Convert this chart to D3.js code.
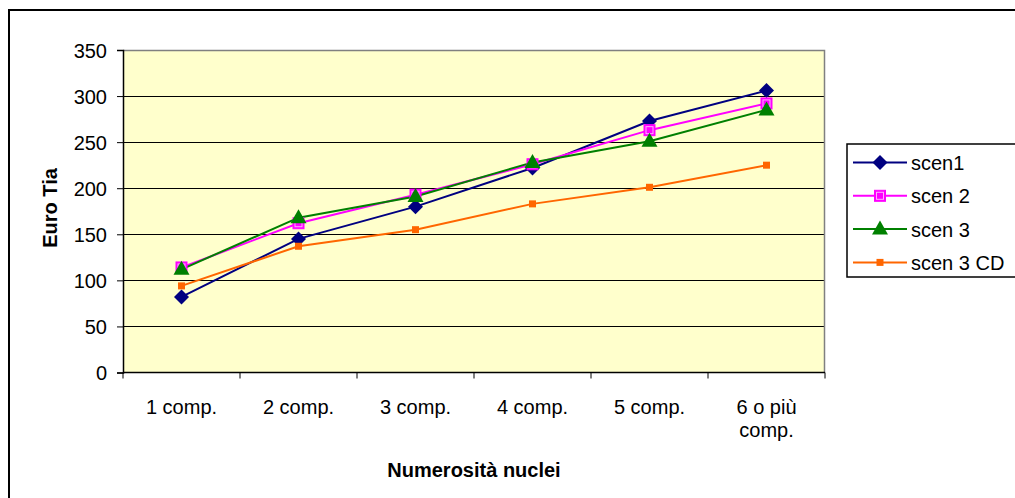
<!DOCTYPE html>
<html>
<head>
<meta charset="utf-8">
<script src="https://cdn.jsdelivr.net/npm/d3@7"></script>
<style>
  html, body { margin: 0; padding: 0; background: #fff; }
  svg { display: block; font-family: Arial, "Liberation Sans", sans-serif; }
</style>
</head>
<body>
<svg id="chart" width="1015" height="498"></svg>
<script>
// Categories and series values
const categories = ["1 comp.", "2 comp.", "3 comp.", "4 comp.", "5 comp.", "6 o più comp."];
const scen1   = [82, 145, 180, 222, 273, 306];
const scen2   = [114, 162, 193, 226, 263, 292];
const scen3   = [112, 168, 191, 228, 251, 285];
const scen3CD = [94, 137, 155, 183, 201, 225];
const yTicks  = [0, 50, 100, 150, 200, 250, 300, 350];

const seriesNames  = ["scen1", "scen 2", "scen 3", "scen 3 CD"];
const seriesValues = [scen1, scen2, scen3, scen3CD];
const seriesColors = ["#000080", "#FF00FF", "#008000", "#FF6600"];
const seriesShapes = ["diamond", "square", "triangle", "smallsquare"];

const FONT = "Arial, 'Liberation Sans', sans-serif";
const svg = d3.select("#chart");
const plot = { left: 123, top: 50, right: 825, bottom: 372.5 };

// Outer chart frame
svg.append("rect")
  .attr("x", 9).attr("y", 10).attr("width", 1020).attr("height", 500)
  .attr("fill", "#fff").attr("stroke", "#000").attr("stroke-width", 2);

const x = d3.scaleBand().domain(categories).range([plot.left, plot.right]).padding(0);
const y = d3.scaleLinear().domain([0, 350]).range([plot.bottom, plot.top]);

// Plot background
svg.append("rect")
  .attr("x", plot.left).attr("y", plot.top)
  .attr("width", plot.right - plot.left).attr("height", plot.bottom - plot.top)
  .attr("fill", "#FFFFCC");

// Horizontal gridlines
svg.append("g").selectAll("line")
  .data(yTicks.filter(v => v > 0 && v < 350))
  .join("line")
  .attr("x1", plot.left).attr("x2", plot.right)
  .attr("y1", d => Math.round(y(d)) + 0.5).attr("y2", d => Math.round(y(d)) + 0.5)
  .attr("stroke", "#000").attr("stroke-width", 1);

// Plot border on top and right
svg.append("path")
  .attr("d", `M${plot.left},${plot.top + 0.5}H${plot.right - 0.5}V${plot.bottom}`)
  .attr("fill", "none").attr("stroke", "#808080").attr("stroke-width", 1.5);

// Y axis
const yAxis = svg.append("g")
  .attr("transform", `translate(${plot.left},0)`)
  .call(d3.axisLeft(y).tickValues(yTicks).tickSize(6).tickPadding(10));
yAxis.select(".domain").attr("stroke", "#000").attr("stroke-width", 1.5);
yAxis.selectAll(".tick line").attr("stroke", "#000");
yAxis.selectAll("text").attr("font-size", 20).attr("fill", "#000")
  .attr("font-family", FONT).attr("dy", "0.36em");

// X axis: ticks at category boundaries
const xAxisG = svg.append("g").attr("transform", `translate(0,${plot.bottom})`);
xAxisG.append("line")
  .attr("x1", plot.left).attr("x2", plot.right)
  .attr("stroke", "#000").attr("stroke-width", 1.5);
const boundaries = categories.map(c => x(c)).concat([x(categories[categories.length - 1]) + x.bandwidth()]);
xAxisG.selectAll("line.tk").data(boundaries).join("line").attr("class", "tk")
  .attr("x1", d => d).attr("x2", d => d).attr("y1", 0).attr("y2", 6)
  .attr("stroke", "#000").attr("stroke-width", 1);

// Category labels, wrapped where they are long
const labelLines = c => c === "6 o più comp." ? ["6 o più", "comp."] : [c];
xAxisG.selectAll("text.cat").data(categories).join("text").attr("class", "cat")
  .attr("x", d => x(d) + x.bandwidth() / 2)
  .attr("y", 41)
  .attr("text-anchor", "middle")
  .attr("font-size", 20).attr("fill", "#000")
  .each(function(d) {
    const t = d3.select(this);
    labelLines(d).forEach((ln, i) => {
      t.append("tspan").attr("x", x(d) + x.bandwidth() / 2).attr("dy", i === 0 ? 0 : 23.5).text(ln);
    });
  });

// Axis titles
svg.append("text")
  .attr("x", (plot.left + plot.right) / 2).attr("y", 477)
  .attr("text-anchor", "middle").attr("font-size", 20).attr("font-weight", "bold")
  .text("Numerosità nuclei");
svg.append("text")
  .attr("transform", `translate(57,208) rotate(-90)`)
  .attr("text-anchor", "middle").attr("font-size", 20).attr("font-weight", "bold")
  .text("Euro Tia");

// Marker drawing
function drawMarker(g, shape, color) {
  if (shape === "diamond") {
    g.append("path").attr("d", "M0,-7.5L7.5,0L0,7.5L-7.5,0Z").attr("fill", color);
  } else if (shape === "square") {
    g.append("rect").attr("x", -5.5).attr("y", -5.5).attr("width", 11).attr("height", 11)
      .attr("fill", "#FF00FF").attr("stroke", "#FF00FF").attr("stroke-width", 1);
    g.append("rect").attr("x", -3.5).attr("y", -3.5).attr("width", 7).attr("height", 7)
      .attr("fill", "none").attr("stroke", "#FFB0FF").attr("stroke-width", 1);
  } else if (shape === "triangle") {
    g.append("path").attr("d", "M0,-8.5L8,5.5L-8,5.5Z").attr("fill", color);
  } else {
    g.append("rect").attr("x", -3.5).attr("y", -3.5).attr("width", 7).attr("height", 7).attr("fill", color);
  }
}

// Lines and markers
const line = d3.line()
  .x((d, i) => x(categories[i]) + x.bandwidth() / 2)
  .y(d => y(d));

seriesValues.forEach((vals, s) => {
  svg.append("path").datum(vals)
    .attr("d", line).attr("fill", "none")
    .attr("stroke", seriesColors[s]).attr("stroke-width", 2);
});
seriesValues.forEach((vals, s) => {
  vals.forEach((v, i) => {
    const g = svg.append("g")
      .attr("transform", `translate(${x(categories[i]) + x.bandwidth() / 2},${y(v)})`);
    drawMarker(g, seriesShapes[s], seriesColors[s]);
  });
});

// Legend
const legend = svg.append("g");
legend.append("rect")
  .attr("x", 847).attr("y", 144).attr("width", 200).attr("height", 133)
  .attr("fill", "#fff").attr("stroke", "#000").attr("stroke-width", 1.5);
seriesNames.forEach((name, s) => {
  const ly = 162.5 + s * 33.3;
  const row = legend.append("g");
  row.append("line").attr("x1", 853).attr("x2", 907).attr("y1", ly).attr("y2", ly)
    .attr("stroke", seriesColors[s]).attr("stroke-width", 2);
  const m = row.append("g").attr("transform", `translate(880,${ly})`);
  drawMarker(m, seriesShapes[s], seriesColors[s]);
  row.append("text").attr("x", 911).attr("y", ly + 7.5)
    .attr("font-size", 20).attr("fill", "#000").text(name);
});
</script>
</body>
</html>
